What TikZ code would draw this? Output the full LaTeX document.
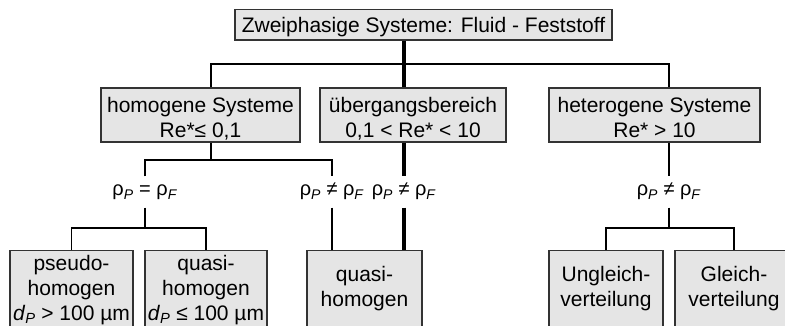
\documentclass[tikz,border=0pt]{standalone}
\usepackage{fontspec}
\setmainfont{Liberation Sans}
\usetikzlibrary{positioning}

\tikzset{
  sysbox/.style={draw=black!80, fill=black!10, line width=1.2pt, align=center,
    inner sep=2pt, font=\fontsize{21}{25}\selectfont},
  levelbox/.style={sysbox, minimum height=54, text height=46pt, text depth=1.4pt},
  leafbox/.style={sysbox, anchor=north, inner xsep=1pt, inner ysep=7pt,
    text height=63pt, text depth=100pt},
  twoline/.style={text height=49pt},
  rholabel/.style={inner sep=0pt, text height=19.5pt, text depth=11.5pt,
    font=\fontsize{20}{24}\selectfont},
  conn/.style={line width=1.8pt},
  trunk/.style={line width=3.6pt},
}
\newcommand{\rhoP}{ρ\textsubscript{\textit{P}}}
\newcommand{\rhoF}{ρ\textsubscript{\textit{F}}}
\newcommand{\dP}{\textit{d}\textsubscript{\textit{P}}}

\begin{document}
\begin{tikzpicture}[x=1pt, y=-1pt]
  \useasboundingbox (0,0) rectangle (785,326);
  \clip (0,0) rectangle (785,326);

  \node[sysbox, minimum width=377, minimum height=30.5, text height=17pt, text depth=2.4pt]
    (root) at (423.5,24.75) {Zweiphasige Systeme: Fluid - Feststoff};

  % Re*-Bereiche
  \node[levelbox, minimum width=199] (hom) at (200.5,115) {homogene Systeme\\Re*≤ 0,1};
  \node[levelbox, minimum width=186] (mid) at (413,115) {übergangsbereich\\0,1 < Re* < 10};
  \node[levelbox, minimum width=211] (het) at (654.5,115) {heterogene Systeme\\Re* > 10};

  % Dichteverhaeltnis
  \node[rholabel] (eqHom) at (145,192) {\rhoP{} = \rhoF};
  \node[rholabel] (neHom) at (332,192) {\rhoP{} ≠ \rhoF};
  \node[rholabel] (neMid) at (404,192) {\rhoP{} ≠ \rhoF};
  \node[rholabel] (neHet) at (669,192) {\rhoP{} ≠ \rhoF};

  \node[leafbox, minimum width=123] (pseudo) at (71.5,250) {pseudo-\\homogen\\\dP{} > 100 µm};
  \node[leafbox, minimum width=122] (quasiL) at (206,250) {quasi-\\homogen\\\dP{} ≤ 100 µm};
  \node[leafbox, twoline, minimum width=115] (quasiM) at (364.5,250) {quasi-\\homogen};
  \node[leafbox, twoline, minimum width=114] (ungl) at (606,250) {Ungleich-\\verteilung};
  \node[leafbox, twoline, minimum width=118] (gleich) at (734,250) {Gleich-\\verteilung};

  \coordinate (barL) at (211,64);
  \coordinate (barR) at (669,64);
  \coordinate (stem) at (404,64);
  \draw[conn] (hom.north -| barL) -- (barL) -- (barR) -- (het.north -| barR);
  \draw[trunk] (root.south -| stem) -- (mid.north -| stem);
  \draw[trunk] (mid.south -| stem) -- (neMid.north);
  \draw[trunk] (neMid.south) -- (quasiM.north -| neMid);

  % homogen
  \coordinate (homJ) at (211,160);
  \coordinate (eqJ) at (145,228);
  \draw[conn] (hom.south -| homJ) -- (homJ);
  \draw[conn] (eqHom.north) -- (eqHom.north |- homJ) -- (neHom.north |- homJ) -- (neHom.north);
  \draw[conn] (neHom.south) -- (quasiM.north -| neHom);
  \draw[conn] (eqHom.south) -- (eqJ);
  \draw[conn] (pseudo.north) -- (pseudo.north |- eqJ) -- (quasiL.north |- eqJ) -- (quasiL.north);

  % heterogen
  \coordinate (hetJ) at (669,228);
  \draw[conn] (het.south -| barR) -- (neHet.north);
  \draw[conn] (neHet.south) -- (hetJ);
  \draw[conn] (ungl.north) -- (ungl.north |- hetJ) -- (gleich.north |- hetJ) -- (gleich.north);
\end{tikzpicture}
\end{document}
